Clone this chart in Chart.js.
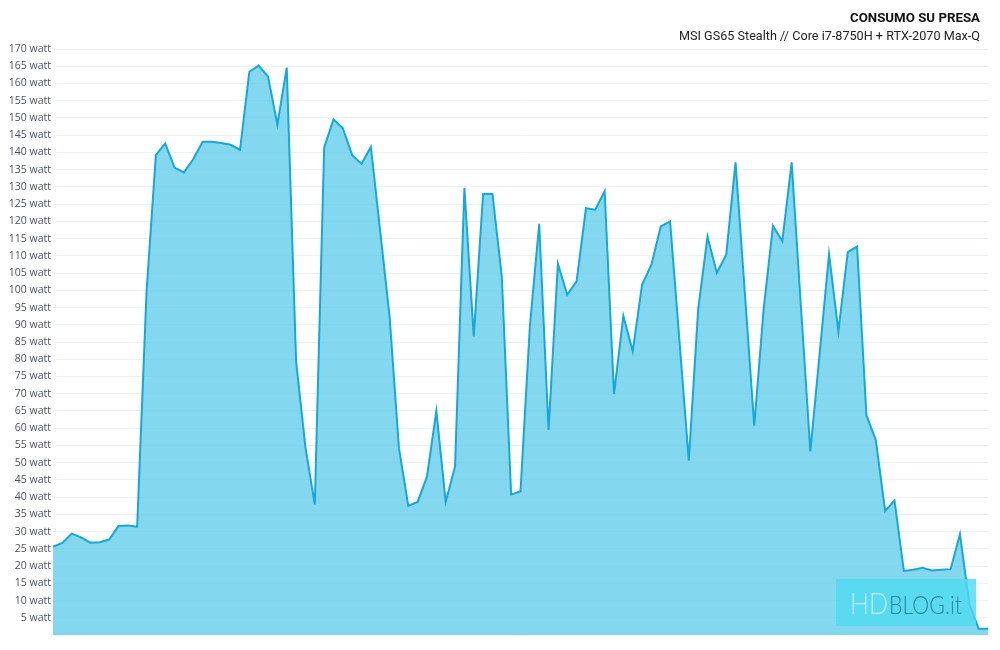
<!DOCTYPE html>
<html lang="it">
<head>
    <meta charset="UTF-8">
    <title>Consumo su presa</title>
    <script src="https://cdn.jsdelivr.net/npm/chart.js"></script>
    <style>
        html, body { margin: 0; padding: 0; background: #fff; }
        #wrap { width: 1000px; height: 650px; position: relative; }
    </style>
</head>
<body>
    <div id="wrap"><canvas id="powerChart"></canvas></div>
    <script>
        const chartTitle = 'CONSUMO SU PRESA';
        const chartSubtitle = 'MSI GS65 Stealth // Core i7-8750H + RTX-2070 Max-Q';
        const unit = ' watt';

        // consumption samples
        const watts = [
            25.6, 26.7, 29.4, 28.3, 26.8, 26.9, 27.7, 31.6, 31.8, 31.4,
            99.4, 139.2, 142.6, 135.6, 134.2, 138, 143.1, 143.1, 142.7, 142.2,
            140.7, 163.4, 165.2, 162, 148.1, 164.6, 79.4, 54.4, 37.9, 141.4,
            149.6, 147, 139.2, 136.7, 141.6, 117, 92.4, 54.2, 37.5, 38.6,
            46, 65, 38.6, 48.9, 129.7, 86.6, 127.9, 127.9, 104, 40.7,
            41.7, 89.5, 119.3, 59.5, 107.7, 98.7, 102.6, 123.8, 123.4, 128.7,
            69.9, 92.6, 82.3, 101.6, 107.4, 118.5, 120, 85.4, 50.6, 94.4,
            115.6, 105, 110.3, 137.1, 99, 60.7, 94.4, 118.7, 114.2, 137.1,
            95, 53.3, 81.8, 110.5, 88.1, 111.1, 112.7, 63.7, 56.6, 36,
            39, 18.6, 18.9, 19.5, 18.7, 18.9, 19.1, 29.3, 9, 1.8,
            1.8
        ];
        const samples = watts.map((v, i) => String(i));

        // draws text squeezed to a given width (the original uses a narrow face)
        function fitText(ctx, text, x, y, width) {
            const w = ctx.measureText(text).width;
            ctx.save();
            ctx.translate(x, y);
            ctx.scale(width / w, 1);
            ctx.fillText(text, 0, 0);
            ctx.restore();
        }

        // title block, right aligned like the original
        const header = {
            id: 'header',
            afterDraw(chart) {
                const ctx = chart.ctx;
                ctx.save();
                ctx.textAlign = 'left';
                ctx.textBaseline = 'middle';
                ctx.fillStyle = '#111';
                ctx.font = 'bold 13px Roboto';
                fitText(ctx, chartTitle, 850, 19, 130);
                ctx.fillStyle = '#222';
                ctx.font = '13px Roboto';
                fitText(ctx, chartSubtitle, 679, 37, 301);
                ctx.restore();
            }
        };

        // HDblog watermark in the lower right corner
        const watermark = {
            id: 'watermark',
            afterDraw(chart) {
                const ctx = chart.ctx;
                ctx.save();
                ctx.fillStyle = 'rgba(80, 218, 242, 0.82)';
                ctx.fillRect(836, 579, 140, 47);
                ctx.textBaseline = 'alphabetic';
                ctx.font = '300 30px Lato';
                ctx.fillStyle = '#b9eff9';
                fitText(ctx, 'HD', 850, 614, 38);
                ctx.font = '300 26px Lato';
                ctx.fillStyle = '#26869e';
                fitText(ctx, 'BLOG.it', 889, 614, 73);
                ctx.restore();
            }
        };

        new Chart(document.getElementById('powerChart'), {
            type: 'line',
            data: {
                labels: samples,
                datasets: [{
                    data: watts,
                    borderColor: '#17a8d5',
                    backgroundColor: 'rgba(100, 205, 235, 0.8)',
                    borderWidth: 2,
                    fill: 'origin',
                    pointRadius: 0,
                    tension: 0
                }]
            },
            options: {
                responsive: true,
                maintainAspectRatio: false,
                animation: false,
                layout: { padding: { left: 0, right: 12, bottom: 15, top: 49 } },
                plugins: {
                    legend: { display: false },
                    tooltip: { enabled: false }
                },
                scales: {
                    x: {
                        display: false,
                        offset: false
                    },
                    y: {
                        min: 0,
                        max: 170,
                        border: { display: false },
                        grid: { color: '#eef1f5', drawTicks: false },
                        ticks: {
                            stepSize: 5,
                            padding: 2,
                            color: '#4a5060',
                            font: { family: 'Open Sans', size: 10.5 },
                            callback: v => v === 0 ? '' : v + unit
                        },
                        afterFit(scale) { scale.width = 53; }
                    }
                }
            },
            plugins: [header, watermark]
        });
    </script>
</body>
</html>
